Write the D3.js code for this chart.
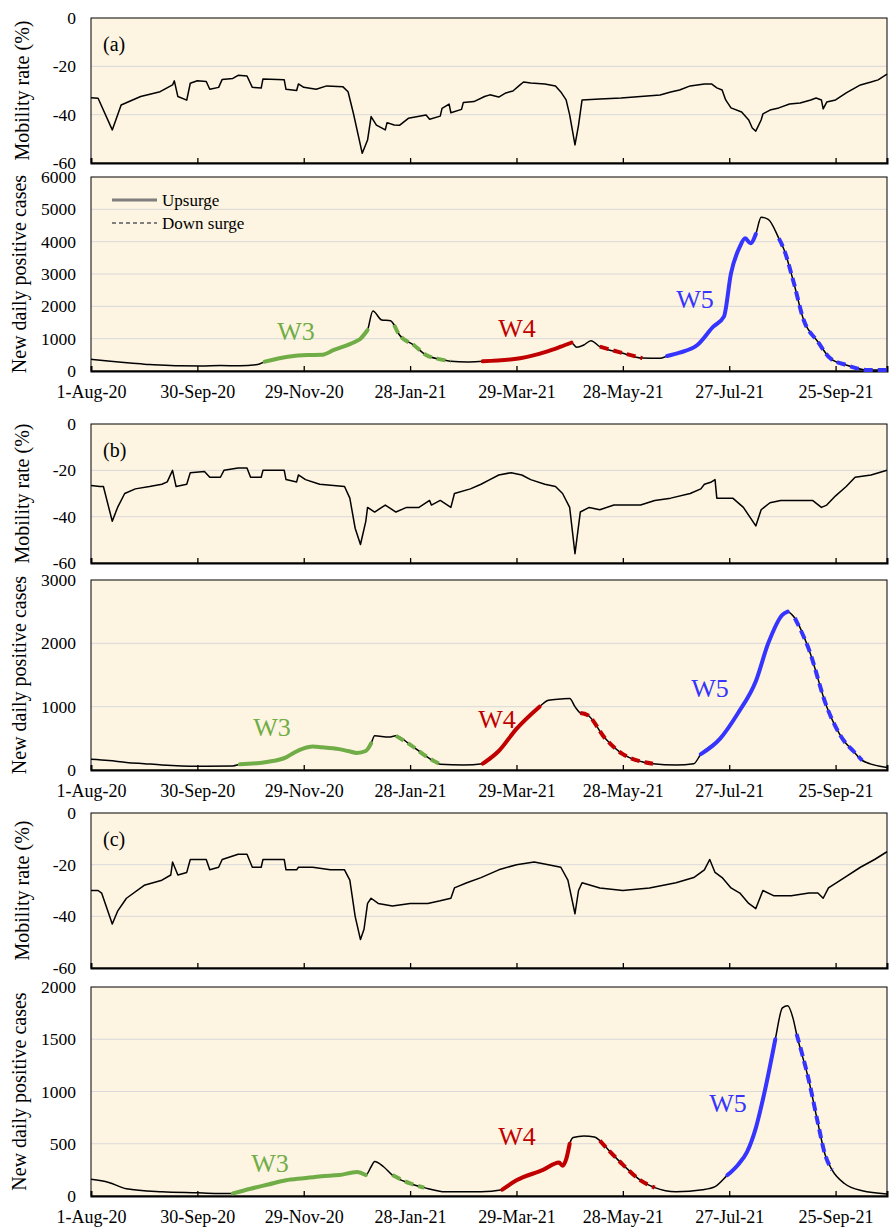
<!DOCTYPE html>
<html>
<head>
<meta charset="utf-8">
<script src="https://d3js.org/d3.v7.min.js"></script>
<style>
  body { margin: 0; background: #fff; }
  svg { display: block; font-family: "Liberation Serif", "Times New Roman", serif; }
  .grid line { stroke: #d9d9d9; stroke-width: 1; }
</style>
</head>
<body>
<script>
// x positions are "days since 1-Aug-20"
const tickDays = [0, 60, 120, 180, 240, 300, 360, 420];
const tickLabels = ['1-Aug-20', '30-Sep-20', '29-Nov-20', '28-Jan-21', '29-Mar-21', '28-May-21', '27-Jul-21', '25-Sep-21'];
const mobilityTicks = [0, -20, -40, -60];

// panel (a)
const mobilityA = [[0,-33],[4,-33.2],[12,-46.3],[17,-36],[28,-32.5],[39,-30.5],[46,-27.7],[47,-26],[49,-32.5],[54,-34],[56,-27],[60,-26],[65,-26.3],[67,-29.5],[72,-28.7],[74,-25.4],[80,-25],[83,-23.7],[88,-24],[91,-28.7],[96,-29],[97,-25.2],[109,-25.6],[110,-29.5],[116,-30],[117,-27.3],[120,-28.7],[127,-29.5],[133,-28.1],[142,-28.4],[145,-30.5],[148,-39.4],[153,-56],[156,-50.5],[158,-40.8],[161,-44.3],[166,-46.3],[167,-43.3],[171,-44.3],[174,-44.4],[179,-41.5],[189,-40.1],[191,-41.9],[197,-40.6],[198,-37.4],[202,-35.6],[203,-39.2],[209,-37.8],[210,-35],[216,-34.6],[222,-32.5],[225,-31.8],[230,-32.7],[234,-31],[238,-30.2],[242,-27.7],[244,-26.5],[248,-26.9],[256,-27.3],[262,-28.1],[265,-30.6],[268,-33.9],[270,-40.1],[273,-52.5],[275,-44.3],[277,-33.9],[287,-33.5],[299,-33.1],[310,-32.5],[321,-31.9],[327,-30.6],[332,-29.8],[338,-28.1],[346,-27.3],[350,-27.3],[353,-28.9],[356,-29.8],[358,-33.9],[361,-37.2],[367,-38.9],[371,-42.2],[373,-45.5],[375,-46.8],[378,-42.2],[379,-39.7],[383,-38.1],[388,-37.2],[394,-35.6],[400,-35.2],[406,-33.9],[409,-33.1],[412,-33.9],[413,-37.6],[415,-34.8],[420,-33.9],[426,-31],[431,-28.9],[434,-27.7],[440,-26.5],[444,-25.6],[449,-23.2]];
const casesA = [[0,360],[11,300],[22,250],[33,200],[42,180],[50,160],[62,155],[73,170],[84,160],[94,200],[98,288],[111,442],[122,495],[130,500],[137,650],[149,906],[152,1000],[156,1268],[159,1856],[164,1577],[169,1556],[171,1423],[174,1113],[182,804],[189,495],[197,361],[203,300],[212,278],[221,300],[242,392],[257,597],[265,752],[271,876],[274,732],[278,804],[282,938],[287,752],[299,567],[311,400],[321,392],[325,464],[332,567],[342,804],[351,1371],[357,1680],[361,3022],[366,3845],[369,4104],[372,3950],[375,4238],[378,4754],[382,4692],[388,4100],[391,3743],[396,2815],[402,1577],[410,906],[417,392],[426,186],[438,31],[449,31]];
const casesTicksA = [0, 1000, 2000, 3000, 4000, 5000, 6000];
const wavesA = [
  { name: 'W3', up: [98, 156], down: [171, 203] },
  { name: 'W4', up: [221, 271], down: [287, 311] },
  { name: 'W5', up: [325, 375], down: [388, 449] }
];

// panel (b)
const mobilityB = [[0,-26.5],[5,-27],[7,-27],[12,-42],[15,-36],[19,-30],[25,-28],[33,-27],[40,-26],[43,-25],[46,-20],[48,-27],[54,-26],[56,-21],[64,-20.5],[67,-23],[73,-23],[75,-20],[83,-19],[88,-19],[90,-23],[96,-23],[97,-20],[109,-20],[110,-24],[116,-25],[117,-22],[121,-24],[129,-26],[143,-27],[146,-32],[149,-45],[152,-52],[155,-42],[156,-36],[160,-38],[164,-36],[166,-35],[172,-38],[178,-36],[185,-36],[191,-33],[192,-35],[197,-33],[203,-36],[205,-30],[214,-28],[220,-26],[225,-24],[230,-22],[237,-21],[243,-22],[248,-24],[256,-26],[262,-27],[266,-30],[270,-36],[273,-56],[276,-38],[281,-36],[287,-37],[295,-35],[310,-35],[318,-33],[327,-32],[338,-30],[344,-28],[346,-26],[350,-25],[352,-24],[353,-32],[362,-32],[368,-36],[375,-44],[378,-37],[383,-34],[389,-33],[400,-33],[407,-33],[412,-36],[415,-35],[420,-31],[426,-27],[431,-23],[440,-22],[449,-20]];
const casesB = [[0,170],[10,150],[20,120],[30,100],[40,80],[60,60],[80,65],[84,90],[100,130],[110,200],[115,280],[120,340],[125,370],[130,360],[140,330],[145,300],[150,270],[155,300],[158,420],[160,540],[168,520],[172,540],[180,400],[190,200],[197,90],[210,80],[221,100],[230,300],[240,650],[253,1000],[258,1100],[265,1120],[270,1130],[273,1000],[276,900],[280,870],[290,500],[300,250],[317,100],[330,80],[340,100],[344,250],[355,500],[365,900],[375,1400],[382,2000],[390,2450],[393,2500],[397,2400],[405,1900],[415,1000],[425,450],[430,300],[435,150],[449,40]];
const casesTicksB = [0, 1000, 2000, 3000];
const wavesB = [
  { name: 'W3', up: [84, 158], down: [172, 197] },
  { name: 'W4', up: [221, 253], down: [276, 317] },
  { name: 'W5', up: [344, 393], down: [397, 435] }
];

// panel (c)
const mobilityC = [[0,-30],[4,-30],[6,-31],[12,-43],[15,-38],[20,-33],[30,-28],[40,-26],[45,-24],[46,-19],[49,-24],[54,-23],[56,-18],[65,-18],[67,-22],[72,-21],[74,-18],[83,-16],[88,-16],[91,-21],[96,-21],[97,-18],[109,-18],[110,-22],[116,-22],[117,-21],[125,-21],[135,-22],[143,-22],[146,-26],[149,-40],[152,-49],[154,-45],[156,-35],[158,-33],[162,-35],[170,-36],[180,-35],[190,-35],[197,-34],[203,-33],[205,-29],[212,-27],[220,-25],[230,-22],[240,-20],[250,-19],[258,-20],[265,-21],[269,-26],[273,-39],[275,-30],[277,-27],[287,-29],[300,-30],[315,-29],[330,-27],[340,-25],[346,-22],[349,-18],[352,-23],[356,-25],[361,-29],[366,-31],[371,-35],[375,-37],[379,-30],[385,-32],[395,-32],[405,-31],[410,-31],[413,-33],[416,-29],[425,-25],[434,-21],[442,-18],[449,-15]];
const casesC = [[0,160],[10,130],[20,70],[40,40],[60,30],[70,25],[80,25],[90,70],[100,110],[110,150],[120,170],[130,190],[140,200],[150,230],[155,200],[158,280],[160,330],[165,280],[170,200],[180,120],[188,80],[200,40],[220,40],[232,60],[240,150],[255,250],[264,320],[266,290],[268,350],[270,500],[272,560],[278,575],[284,565],[287,530],[293,420],[300,300],[310,150],[318,80],[330,40],[345,60],[352,90],[359,200],[365,300],[370,420],[375,650],[380,1000],[386,1500],[390,1800],[393,1820],[396,1700],[398,1550],[405,1100],[410,700],[414,400],[418,250],[425,120],[435,50],[449,20]];
const casesTicksC = [0, 500, 1000, 1500, 2000];
const wavesC = [
  { name: 'W3', up: [80, 155], down: [170, 188] },
  { name: 'W4', up: [232, 270], down: [287, 318] },
  { name: 'W5', up: [359, 386], down: [398, 418] }
];

const waveColors = { W3: '#70ad47', W4: '#c00000', W5: '#3535ff' };

const W = 889, H = 1228;
const left = 91, right = 887;
const bg = '#fdf4e1';
const serif = '"Liberation Serif", "Times New Roman", serif';

const svg = d3.select('body').append('svg').attr('width', W).attr('height', H);

const day0 = new Date(2020, 7, 1);
const toDate = (d) => d3.timeDay.offset(day0, d);
const x = d3.scaleTime().domain([day0, toDate(449)]).range([left, right]);

const panels = [
  { tag: '(a)', mob: mobilityA, cases: casesA, cTicks: casesTicksA, waves: wavesA,
    mobY: [18, 163], caseY: [177, 371], legend: true,
    labelPos: { W3: [296, 340], W4: [517, 337], W5: [695, 308] } },
  { tag: '(b)', mob: mobilityB, cases: casesB, cTicks: casesTicksB, waves: wavesB,
    mobY: [424, 563], caseY: [580, 770],
    labelPos: { W3: [272, 736], W4: [497, 728], W5: [710, 697] } },
  { tag: '(c)', mob: mobilityC, cases: casesC, cTicks: casesTicksC, waves: wavesC,
    mobY: [813, 968], caseY: [987, 1196],
    labelPos: { W3: [270, 1172], W4: [517, 1145], W5: [728, 1112] } }
];

function frame(y0, y1, yScale, ticks, title, titleX, showX) {
  const g = svg.append('g');
  g.append('rect').attr('x', left).attr('y', y0).attr('width', right - left).attr('height', y1 - y0)
    .attr('fill', bg);
  // gridlines
  g.append('g').attr('class', 'grid').selectAll('line')
    .data(ticks.filter((t) => yScale(t) > y0 + 1 && yScale(t) < y1 - 1))
    .join('line')
    .attr('x1', left).attr('x2', right)
    .attr('y1', (d) => yScale(d)).attr('y2', (d) => yScale(d));
  // border
  g.append('rect').attr('x', left).attr('y', y0).attr('width', right - left).attr('height', y1 - y0)
    .attr('fill', 'none').attr('stroke', '#000').attr('stroke-width', 1);
  // y axis
  const ya = g.append('g').attr('transform', `translate(${left},0)`)
    .call(d3.axisLeft(yScale).tickValues(ticks).tickSize(0).tickPadding(15).tickFormat((d) => String(d)));
  ya.attr('font-family', serif).attr('font-size', 17.5);
  ya.select('.domain').remove();
  // x axis
  const xa = g.append('g').attr('transform', `translate(0,${y1})`)
    .call(d3.axisBottom(x).tickValues(tickDays.map(toDate)).tickSize(-5).tickPadding(14)
      .tickFormat((d, i) => tickLabels[i]));
  xa.attr('font-family', serif).attr('font-size', 18);
  xa.select('.domain').attr('stroke-width', 2);
  xa.selectAll('.tick line').attr('stroke-width', 1.3);
  xa.selectAll('.tick').filter((d, i) => i === 0).select('line').remove();
  if (!showX) xa.selectAll('text').remove();
  // title
  g.append('text')
    .attr('transform', `translate(${titleX},${(y0 + y1) / 2}) rotate(-90)`)
    .attr('text-anchor', 'middle')
    .attr('font-size', 20)
    .text(title);
  return g;
}

panels.forEach((p) => {
  // mobility
  const ym = d3.scaleLinear().domain([-60, 0]).range([p.mobY[1], p.mobY[0]]);
  const gm = frame(p.mobY[0], p.mobY[1], ym, mobilityTicks, 'Mobility rate (%)', 29, false);
  gm.append('path')
    .datum(p.mob)
    .attr('fill', 'none').attr('stroke', '#000').attr('stroke-width', 1.5)
    .attr('stroke-linejoin', 'round')
    .attr('d', d3.line().x((d) => x(toDate(d[0]))).y((d) => ym(d[1])));
  gm.append('text').attr('x', 103).attr('y', p.mobY[0] + 33).attr('font-size', 20).text(p.tag);

  // cases
  const yMax = p.cTicks[p.cTicks.length - 1];
  const yc = d3.scaleLinear().domain([0, yMax]).range([p.caseY[1], p.caseY[0]]);
  const gc = frame(p.caseY[0], p.caseY[1], yc, p.cTicks, 'New daily positive cases', 26, true);
  const line = d3.line().x((d) => x(toDate(d[0]))).y((d) => yc(d[1])).curve(d3.curveMonotoneX);
  gc.append('path').datum(p.cases)
    .attr('fill', 'none').attr('stroke', '#000').attr('stroke-width', 1.5)
    .attr('d', line);
  p.waves.forEach((w) => {
    const up = p.cases.filter((d) => d[0] >= w.up[0] && d[0] <= w.up[1]);
    const down = p.cases.filter((d) => d[0] >= w.down[0] && d[0] <= w.down[1]);
    gc.append('path').datum(up)
      .attr('fill', 'none').attr('stroke', waveColors[w.name]).attr('stroke-width', 4)
      .attr('stroke-linecap', 'round').attr('d', line);
    gc.append('path').datum(down)
      .attr('fill', 'none').attr('stroke', waveColors[w.name]).attr('stroke-width', 4)
      .attr('stroke-dasharray', '9,5').attr('d', line);
    const pos = p.labelPos[w.name];
    gc.append('text').attr('x', pos[0]).attr('y', pos[1]).attr('text-anchor', 'middle')
      .attr('font-size', 26).attr('fill', waveColors[w.name]).text(w.name);
  });

  if (p.legend) {
    const lg = gc.append('g');
    lg.append('line').attr('x1', 112).attr('x2', 157).attr('y1', 200).attr('y2', 200)
      .attr('stroke', '#7f7f7f').attr('stroke-width', 3);
    lg.append('line').attr('x1', 112).attr('x2', 157).attr('y1', 223).attr('y2', 223)
      .attr('stroke', '#7f7f7f').attr('stroke-width', 2).attr('stroke-dasharray', '4,3');
    lg.append('text').attr('x', 162).attr('y', 206).attr('font-size', 17).text('Upsurge');
    lg.append('text').attr('x', 162).attr('y', 229).attr('font-size', 17).text('Down surge');
  }
});
</script>
</body>
</html>
